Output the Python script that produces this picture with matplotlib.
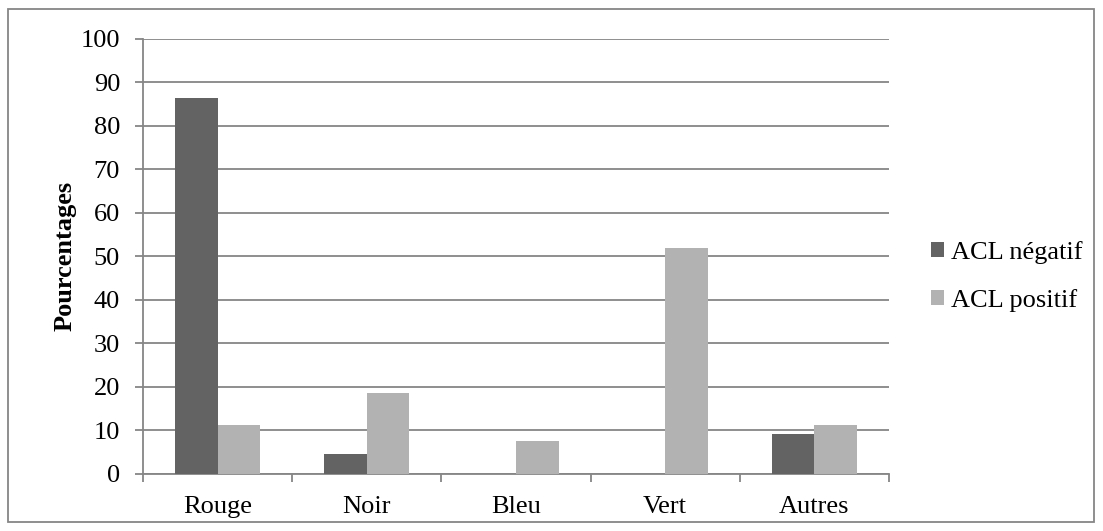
import matplotlib.pyplot as plt
import matplotlib.patches as patches
import numpy as np

categories = ['Rouge', 'Noir', 'Bleu', 'Vert', 'Autres']
acl_negatif = [86.4, 4.5, 0, 0, 9.1]
acl_positif = [11.1, 18.5, 7.4, 51.9, 11.1]
series_names = ['ACL négatif', 'ACL positif']

plt.rcParams['font.family'] = ['Liberation Serif', 'DejaVu Serif']

fig = plt.figure(figsize=(11.03, 5.31), dpi=100)
ax = fig.add_axes([0.1296, 0.108, 0.806 - 0.1296, 0.9266 - 0.108])

x = np.arange(len(categories))
width = 1 / 3.5
ax.bar(x - width / 2, acl_negatif, width, color='#636363', label=series_names[0], zorder=3)
ax.bar(x + width / 2, acl_positif, width, color='#b2b2b2', label=series_names[1], zorder=3)

ax.set_xlim(-0.5, len(categories) - 0.5)
ax.set_ylim(0, 100)
ax.set_yticks(range(0, 101, 10))
ax.grid(axis='y', color='#868686', linewidth=1.3, zorder=0)

ax.set_xticks(x)
ax.set_xticklabels(categories)
ax.set_xticks(np.arange(-0.5, len(categories)), minor=True)
ax.tick_params(axis='x', which='major', length=0, pad=16, labelsize=19)
ax.tick_params(axis='x', which='minor', length=5.5, color='#868686', width=1.3)
ax.tick_params(axis='y', length=5.5, color='#868686', width=1.3, pad=11, labelsize=19)

for side in ['top', 'right']:
    ax.spines[side].set_visible(False)
for side in ['left', 'bottom']:
    ax.spines[side].set_color('#868686')
    ax.spines[side].set_linewidth(1.3)

ax.set_ylabel('Pourcentages', fontsize=19, fontweight='bold', labelpad=3)

ax.legend(loc='center left', bbox_to_anchor=(0.844, 0.48), bbox_transform=fig.transFigure,
          frameon=False, fontsize=19, handlelength=0.5, handleheight=0.5,
          handletextpad=0.27, labelspacing=0.95, borderaxespad=0, borderpad=0)

fig.patches.append(patches.Rectangle((8 / 1103, 9 / 531), 1086 / 1103, 513 / 531,
                                     transform=fig.transFigure, fill=False,
                                     edgecolor='#868686', linewidth=1.3))

plt.savefig('out.png', dpi=100)
